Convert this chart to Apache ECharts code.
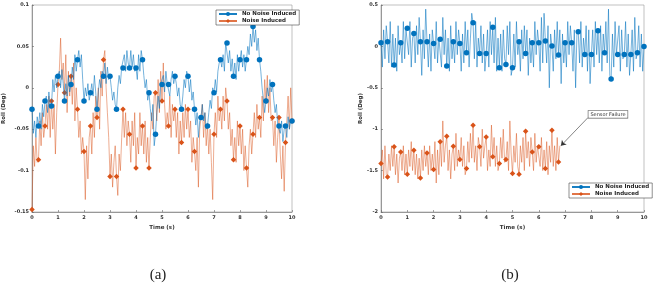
<!DOCTYPE html>
<html>
<head>
<meta charset="utf-8">
<script src="https://cdn.jsdelivr.net/npm/echarts@6/dist/echarts.min.js"></script>
<style>
  html, body { margin: 0; padding: 0; background: #fff; }
  #chart { width: 657px; height: 294px; }
</style>
</head>
<body>
<div id="chart"></div>
<script>
// sample spacing (s) and marker spacing (every 5th sample = 0.25 s)
const step = 0.05;
const markerEvery = 5;
const seriesNames = ['No Noise Induced', 'Noise Induced'];

// (a) roll, no noise induced, t = 0 .. 10
const rollA_clean = [
  -0.026, -0.055, -0.040, -0.060, -0.035,
  -0.046, -0.030, -0.050, -0.020, -0.035,
  -0.016, -0.010, -0.030, -0.005, -0.025,
  -0.022, 0.010, -0.005, 0.015, 0.000,
  0.014, 0.020, 0.000, 0.022, 0.005,
  -0.016, 0.005, -0.010, 0.015, -0.005,
  0.004, 0.025, 0.010, 0.040, 0.020,
  0.034, 0.045, 0.025, 0.040, 0.010,
  -0.016, 0.000, -0.010, 0.005, -0.015,
  -0.006, 0.005, -0.010, 0.015, -0.005,
  -0.026, -0.005, 0.010, 0.000, 0.020,
  0.014, 0.030, 0.005, 0.025, 0.010,
  0.014, 0.000, -0.015, -0.005, -0.020,
  -0.026, 0.000, 0.015, 0.005, 0.025,
  0.024, 0.040, 0.020, 0.045, 0.030,
  0.024, 0.045, 0.025, 0.040, 0.020,
  0.024, 0.010, 0.040, 0.020, 0.045,
  0.034, 0.015, 0.000, 0.010, -0.015,
  -0.006, -0.025, -0.040, -0.020, -0.070,
  -0.056, -0.030, -0.010, -0.025, 0.005,
  0.004, 0.015, -0.005, 0.020, 0.005,
  0.004, -0.010, 0.010, 0.020, 0.005,
  0.014, 0.005, -0.010, 0.000, -0.020,
  -0.026, -0.010, 0.010, 0.000, 0.020,
  0.014, -0.005, 0.010, -0.015, -0.005,
  -0.026, -0.045, -0.030, -0.060, -0.040,
  -0.036, -0.020, -0.040, -0.030, -0.050,
  -0.046, -0.030, -0.015, -0.025, 0.000,
  -0.006, 0.010, -0.005, 0.020, 0.030,
  0.034, 0.025, 0.040, 0.020, 0.055,
  0.054, 0.030, 0.045, 0.020, 0.035,
  0.014, 0.030, 0.010, 0.040, 0.020,
  0.034, 0.045, 0.025, 0.040, 0.020,
  0.034, 0.050, 0.040, 0.065, 0.050,
  0.074, 0.055, 0.070, 0.045, 0.060,
  0.034, 0.020, 0.000, -0.015, -0.030,
  -0.016, 0.000, -0.010, 0.010, -0.005,
  0.004, -0.015, -0.030, -0.020, -0.045,
  -0.046, -0.055, -0.040, -0.065, -0.050,
  -0.046, -0.060, -0.035, -0.050, -0.040,
  -0.040
];

// (a) roll, noise induced, t = 0 .. 10
const rollA_noisy = [
  -0.147, -0.070, -0.095, -0.060, -0.090,
  -0.087, -0.040, -0.070, -0.030, -0.060,
  -0.046, -0.020, -0.050, -0.010, -0.060,
  -0.016, -0.050, -0.020, -0.080, -0.030,
  0.004, 0.020, 0.060, 0.010, 0.030,
  -0.006, 0.040, -0.030, 0.020, -0.010,
  0.014, -0.020, 0.030, -0.040, 0.000,
  -0.026, -0.060, -0.040, -0.080, -0.060,
  -0.077, -0.135, -0.070, -0.110, -0.060,
  -0.046, -0.080, -0.030, -0.060, -0.010,
  -0.036, 0.000, -0.050, 0.020, -0.010,
  0.034, 0.045, 0.000, -0.030, -0.060,
  -0.107, -0.080, -0.120, -0.090, -0.070,
  -0.107, -0.130, -0.080, -0.100, -0.060,
  -0.026, -0.060, -0.030, -0.070, -0.040,
  -0.056, -0.090, -0.040, -0.070, -0.030,
  -0.097, -0.060, -0.080, -0.030, -0.070,
  -0.046, -0.080, -0.040, -0.090, -0.060,
  -0.097, -0.060, -0.030, -0.050, -0.010,
  -0.006, -0.040, 0.010, -0.030, 0.020,
  -0.016, 0.030, -0.020, -0.050, -0.030,
  -0.046, -0.010, -0.060, -0.020, -0.040,
  -0.026, -0.060, -0.030, -0.080, -0.040,
  -0.066, -0.030, -0.060, -0.020, -0.050,
  -0.026, -0.060, -0.040, -0.090, -0.060,
  -0.077, -0.100, -0.060, -0.120, -0.050,
  -0.036, -0.020, -0.060, -0.030, -0.070,
  -0.046, -0.080, -0.050, -0.090, -0.135,
  -0.056, -0.030, -0.060, -0.010, -0.040,
  -0.026, -0.050, -0.010, -0.040, 0.000,
  -0.016, -0.050, -0.030, -0.070, -0.050,
  -0.087, -0.060, -0.090, -0.040, -0.070,
  -0.046, -0.080, -0.050, -0.100, -0.070,
  -0.097, -0.120, -0.070, -0.050, -0.080,
  -0.056, -0.030, -0.060, -0.020, -0.050,
  -0.036, -0.060, -0.010, -0.040, 0.010,
  -0.016, 0.015, -0.030, 0.000, -0.040,
  -0.036, -0.070, -0.040, -0.090, -0.060,
  -0.036, -0.080, -0.110, -0.070, -0.125,
  -0.066, -0.040, -0.010, -0.050, 0.000,
  -0.040
];

// (b) roll, no noise induced, t = 0 .. 10
const rollB_clean = [
  0.044, -0.25, 0.20, -0.15, 0.25,
  0.056, -0.20, 0.30, -0.25, 0.15,
  -0.226, 0.10, -0.30, 0.25, -0.10,
  0.044, -0.20, 0.30, -0.15, 0.20,
  0.218, -0.10, 0.30, -0.25, 0.10,
  0.157, -0.20, 0.25, -0.10, 0.35,
  0.056, -0.35, 0.20, -0.15, 0.45,
  0.056, -0.25, 0.15, -0.30, 0.20,
  0.036, -0.15, 0.30, -0.20, 0.10,
  0.085, -0.25, 0.35, -0.10, 0.20,
  -0.238, 0.10, -0.30, 0.25, -0.15,
  0.056, -0.20, 0.30, -0.10, 0.20,
  0.036, -0.30, 0.15, -0.20, 0.30,
  -0.077, 0.20, -0.25, 0.10, 0.40,
  0.286, -0.15, 0.30, -0.25, 0.10,
  -0.085, 0.25, -0.20, 0.15, -0.30,
  -0.085, 0.20, -0.25, 0.30, -0.10,
  0.230, -0.20, 0.35, -0.30, 0.10,
  -0.258, 0.15, -0.30, 0.20, -0.15,
  -0.218, 0.25, -0.10, 0.30, -0.35,
  -0.258, 0.15, -0.25, 0.30, -0.10,
  0.056, -0.30, 0.20, -0.15, 0.25,
  -0.085, 0.20, -0.35, 0.10, -0.20,
  0.044, -0.25, 0.30, -0.10, 0.20,
  0.044, -0.30, 0.35, -0.20, 0.40,
  0.064, -0.20, 0.25, -0.50, 0.15,
  0.004, -0.30, 0.20, -0.15, 0.30,
  -0.105, 0.20, -0.45, 0.15, -0.20,
  0.044, -0.25, 0.30, -0.10, 0.25,
  0.044, -0.30, 0.20, -0.50, 0.15,
  0.177, -0.20, 0.30, -0.25, 0.10,
  -0.097, 0.25, -0.30, 0.20, -0.45,
  -0.097, 0.20, -0.25, 0.30, -0.10,
  0.190, -0.20, 0.25, -0.30, 0.15,
  -0.077, 0.30, -0.20, 0.45, -0.35,
  -0.395, 0.15, -0.25, 0.30, -0.10,
  -0.097, 0.25, -0.30, 0.20, -0.15,
  -0.097, 0.30, -0.25, 0.15, -0.35,
  -0.097, 0.20, -0.30, 0.35, -0.15,
  -0.077, 0.25, -0.25, 0.15, -0.30,
  0.000
];

// (b) roll, noise induced, t = 0 .. 6.8 (sensor failure after that)
const rollB_noisy = [
  -1.415, -1.25, -1.60, -1.20, -1.55,
  -1.576, -1.30, -1.50, -1.20, -1.45,
  -1.213, -1.55, -1.30, -1.65, -1.35,
  -1.274, -1.50, -1.20, -1.55, -1.30,
  -1.544, -1.25, -1.45, -1.15, -1.50,
  -1.254, -1.55, -1.30, -1.60, -1.35,
  -1.588, -1.25, -1.50, -1.20, -1.45,
  -1.286, -1.55, -1.20, -1.50, -1.30,
  -1.488, -1.15, -1.65, -1.25, -1.55,
  -1.153, -1.45, -0.90, -1.40, -1.20,
  -1.085, -1.50, -1.25, -1.60, -1.30,
  -1.205, -1.50, -1.05, -1.45, -1.25,
  -1.367, -1.10, -1.45, -1.20, -1.55,
  -1.476, -1.15, -1.40, -1.05, -1.35,
  -0.952, -1.40, -1.20, -1.50, -1.10,
  -1.213, -1.45, -1.00, -1.35, -1.20,
  -1.093, -1.50, -1.25, -1.45, -0.95,
  -1.334, -1.10, -1.45, -1.20, -1.50,
  -1.415, -1.10, -1.35, -1.00, -1.40,
  -1.367, -1.15, -1.50, -0.90, -1.30,
  -1.536, -1.20, -1.40, -1.05, -1.45,
  -1.544, -1.20, -1.40, -1.10, -1.50,
  -1.024, -1.35, -1.15, -1.45, -1.10,
  -1.274, -1.50, -1.05, -1.40, -1.20,
  -1.213, -1.45, -1.10, -1.50, -1.25,
  -1.476, -1.15, -1.55, -1.20, -1.40,
  -1.012, -1.45, -1.20, -1.50, -1.10,
  -1.395, -1.20
];

// annotation in (b): text anchor and arrow (data coords)
const failureText = 'Sensor Failure';
const failureLabelAt = [8.63, -0.82];
const failureArrow = [[7.87, -0.86], [6.84, -1.2]];

const blue = '#0072BD';
const orange = '#D95319';
const axisGray = '#666';

function toPairs(vals) {
  return vals.map((v, i) => [+(i * step).toFixed(2), v]);
}

function xAxisFor(gridIndex) {
  return {
    type: 'value', gridIndex: gridIndex, min: 0, max: 10, interval: 1,
    name: 'Time (s)', nameLocation: 'middle', nameGap: 12,
    nameTextStyle: { fontSize: 5.5, fontWeight: 'bold', color: '#333', fontFamily: 'DejaVu Sans' },
    axisLine: { onZero: false, lineStyle: { color: axisGray, width: 0.6 } },
    axisTick: { inside: true, length: 2, lineStyle: { color: axisGray, width: 0.6 } },
    axisLabel: { fontSize: 5, fontWeight: 'bold', color: '#333', margin: 3, fontFamily: 'DejaVu Sans' },
    splitLine: { show: false }
  };
}

function yAxisFor(gridIndex, min, max, interval, nameGap) {
  return {
    type: 'value', gridIndex: gridIndex, min: min, max: max, interval: interval,
    name: 'Roll (Deg)', nameLocation: 'middle', nameGap: nameGap,
    nameTextStyle: { fontSize: 5.5, fontWeight: 'bold', color: '#333', fontFamily: 'DejaVu Sans' },
    axisLine: { show: true, onZero: false, lineStyle: { color: axisGray, width: 0.6 } },
    axisTick: { show: true, inside: true, length: 2, lineStyle: { color: axisGray, width: 0.6 } },
    axisLabel: { fontSize: 5, fontWeight: 'bold', color: '#333', margin: 3, fontFamily: 'DejaVu Sans' },
    splitLine: { show: false }
  };
}

function lineSeries(name, vals, idx, color, symbol, opacity) {
  return {
    name: name, type: 'line', xAxisIndex: idx, yAxisIndex: idx,
    data: toPairs(vals),
    showAllSymbol: true,
    symbol: symbol,
    symbolSize: (v, p) => (p.dataIndex % markerEvery === 0 ? 5.5 : 0),
    itemStyle: { color: color },
    lineStyle: { color: color, width: 0.6, opacity: opacity },
    emphasis: { disabled: true },
    z: name === seriesNames[0] ? 3 : 2
  };
}

function legendAt(left, top) {
  return {
    data: seriesNames, orient: 'vertical', left: left, top: top,
    backgroundColor: '#fff', borderColor: '#444', borderWidth: 0.6,
    padding: [1, 3, 1, 2], itemGap: 1, itemWidth: 18, itemHeight: 5,
    textStyle: { fontSize: 5.5, fontWeight: 'bold', color: '#222', fontFamily: 'DejaVu Sans' }
  };
}

const chart = echarts.init(document.getElementById('chart'), null, { renderer: 'canvas' });

const option = {
  animation: false,
  backgroundColor: '#fff',
  title: [
    { text: '(a)', left: 153, top: 263, textAlign: 'center',
      textStyle: { fontSize: 15, fontWeight: 'normal', color: '#222', fontFamily: 'Liberation Serif' } },
    { text: '(b)', left: 505, top: 263, textAlign: 'center',
      textStyle: { fontSize: 15, fontWeight: 'normal', color: '#222', fontFamily: 'Liberation Serif' } }
  ],
  legend: [legendAt(216, 10), legendAt(569, 183)],
  grid: [
    { left: 29, top: 5, width: 263, height: 207, show: true, borderColor: '#999', borderWidth: 0.6, containLabel: false },
    { left: 381, top: 5, width: 263, height: 207, show: true, borderColor: '#999', borderWidth: 0.6, containLabel: false }
  ],
  xAxis: [xAxisFor(0), xAxisFor(1)],
  yAxis: [yAxisFor(0, -0.15, 0.1, 0.05, 25), yAxisFor(1, -2, 0.5, 0.5, 17)],
  series: [
    lineSeries(seriesNames[1], rollA_noisy, 0, orange, 'diamond', 0.8),
    lineSeries(seriesNames[0], rollA_clean, 0, blue, 'circle', 0.9),
    lineSeries(seriesNames[0], rollB_clean, 1, blue, 'circle', 0.9),
    Object.assign(lineSeries(seriesNames[1], rollB_noisy, 1, orange, 'diamond', 0.8), {
      markLine: {
        silent: true, animation: false,
        symbol: ['none', 'arrow'], symbolSize: 5,
        label: { show: false },
        lineStyle: { color: '#333', width: 0.6, type: 'solid' },
        data: [[{ coord: failureArrow[0] }, { coord: failureArrow[1] }]]
      },
      markPoint: {
        silent: true, animation: false,
        symbol: 'rect', symbolSize: 0,
        label: {
          show: true, formatter: failureText, position: 'inside',
          fontSize: 5, color: '#333', fontFamily: 'DejaVu Sans',
          backgroundColor: '#fff', borderColor: '#555', borderWidth: 0.6,
          padding: [1, 2]
        },
        data: [{ coord: failureLabelAt }]
      }
    })
  ]
};

chart.setOption(option);
</script>
</body>
</html>
